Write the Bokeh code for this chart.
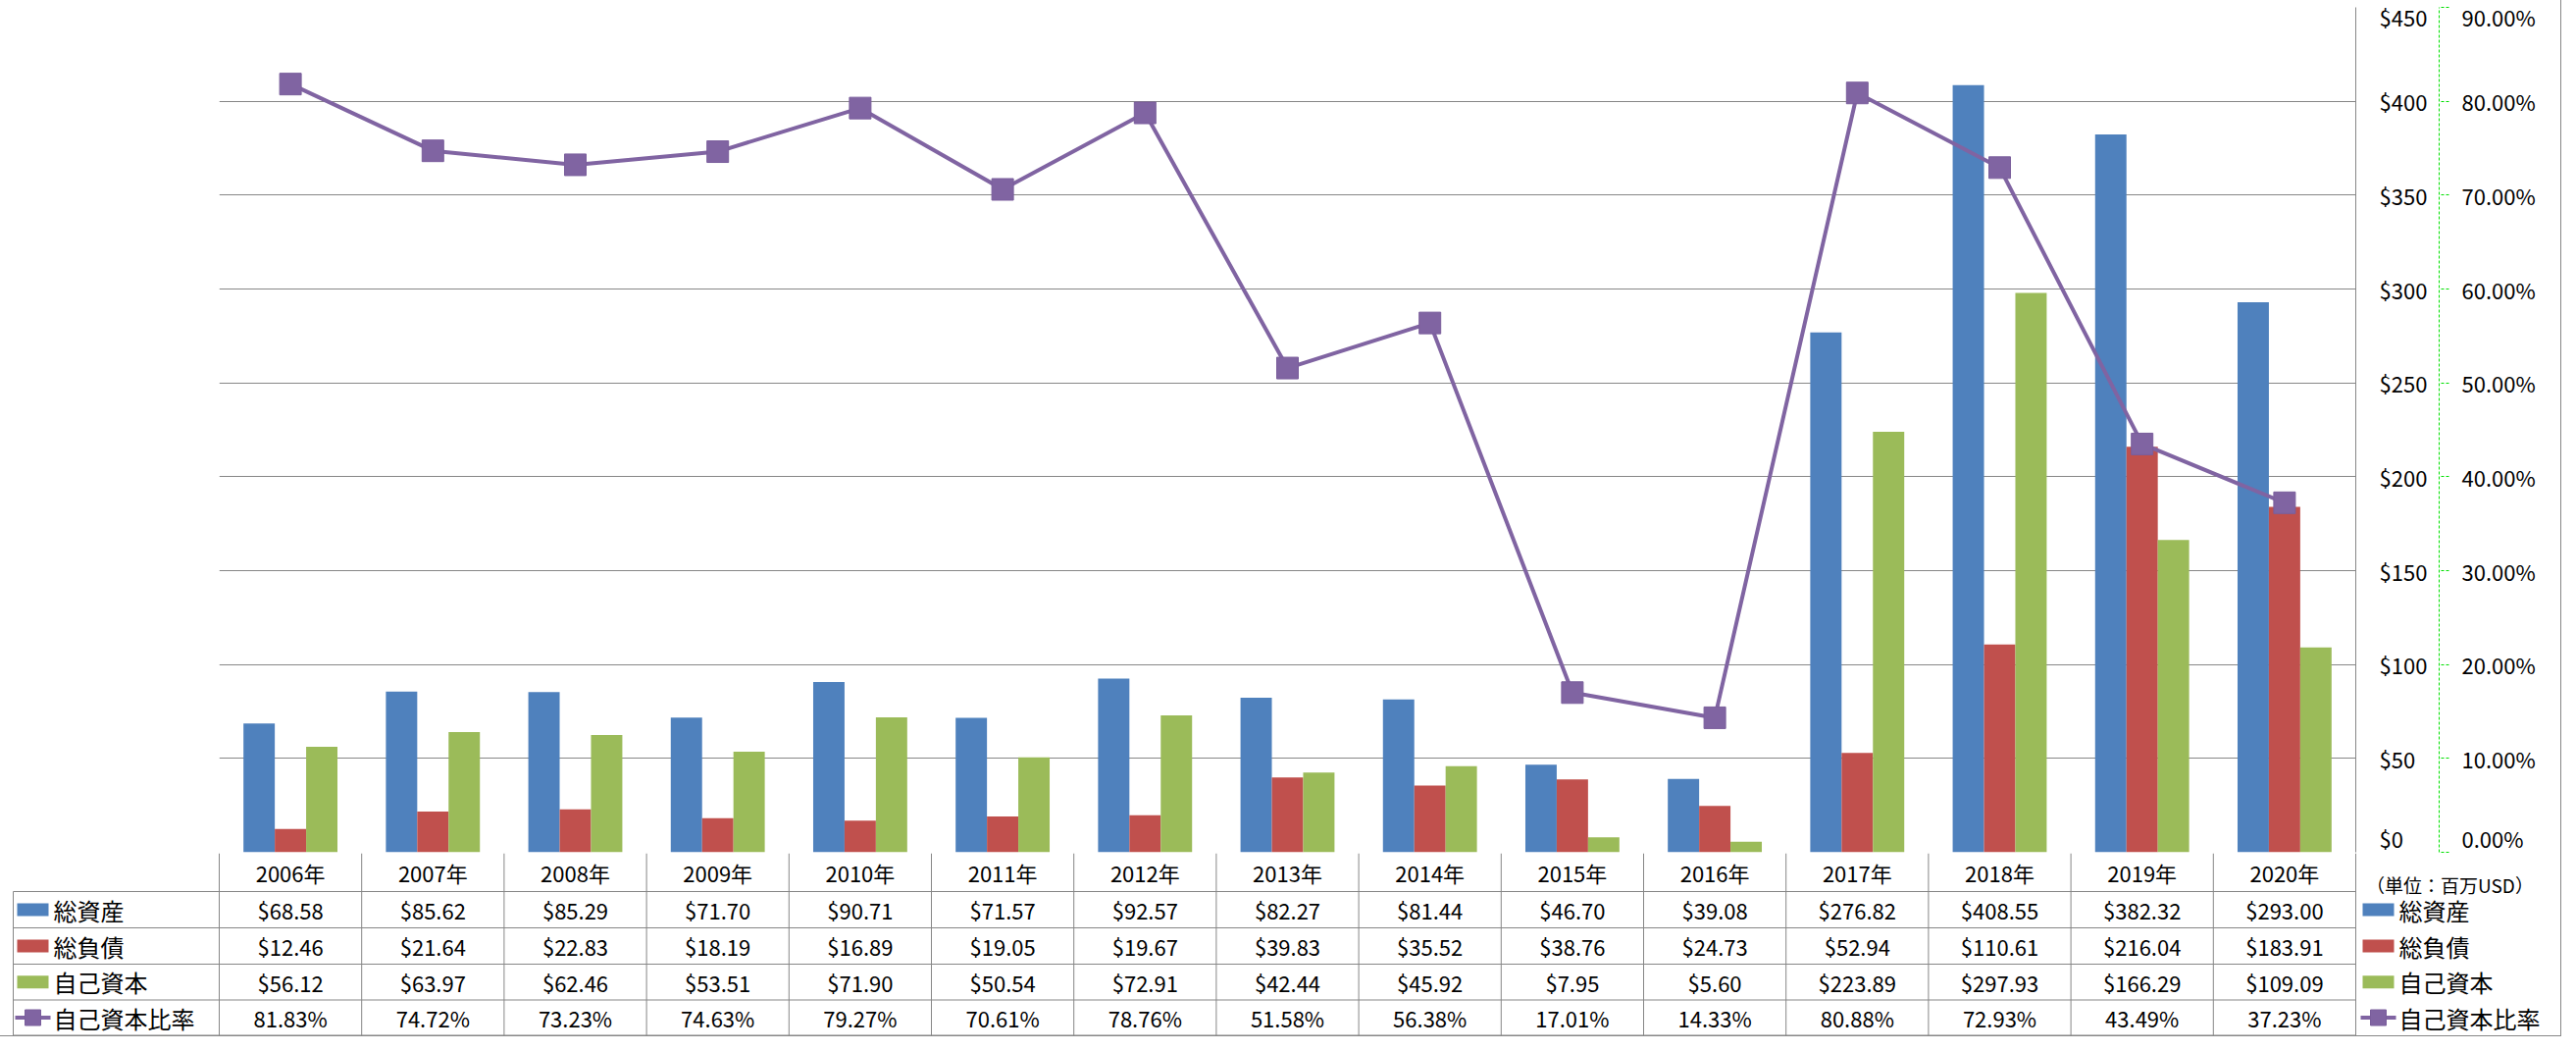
from bokeh.plotting import figure
from bokeh.models import (Range1d, FactorRange, LinearAxis, NumeralTickFormatter,
                          FixedTicker, ColumnDataSource)
from bokeh.transform import dodge
from bokeh.layouts import column
from bokeh.embed import file_html
from bokeh.resources import INLINE
from bokeh.core.properties import value

# ---------------- data ----------------
years = ["2006年", "2007年", "2008年", "2009年", "2010年", "2011年", "2012年", "2013年",
         "2014年", "2015年", "2016年", "2017年", "2018年", "2019年", "2020年"]
total_assets = [68.58, 85.62, 85.29, 71.70, 90.71, 71.57, 92.57, 82.27,
                81.44, 46.70, 39.08, 276.82, 408.55, 382.32, 293.00]
total_liabilities = [12.46, 21.64, 22.83, 18.19, 16.89, 19.05, 19.67, 39.83,
                     35.52, 38.76, 24.73, 52.94, 110.61, 216.04, 183.91]
equity = [56.12, 63.97, 62.46, 53.51, 71.90, 50.54, 72.91, 42.44,
          45.92, 7.95, 5.60, 223.89, 297.93, 166.29, 109.09]
equity_ratio_pct = [81.83, 74.72, 73.23, 74.63, 79.27, 70.61, 78.76, 51.58,
                    56.38, 17.01, 14.33, 80.88, 72.93, 43.49, 37.23]
series_names = ["総資産", "総負債", "自己資本", "自己資本比率"]
series_colors = ["#4F81BD", "#C0504D", "#9BBB59", "#8064A2"]
usd_ticks = [0, 50, 100, 150, 200, 250, 300, 350, 400, 450]
pct_ticks = [0.0, 0.1, 0.2, 0.3, 0.4, 0.5, 0.6, 0.7, 0.8, 0.9]
unit_label = "（単位：百万USD）"

FONT_NAME = "Noto Sans CJK JP"
FONT = value(FONT_NAME)
GRID = "#878787"
W = 2610
FRAME_L = 223
FRAME_R = 2401
N = len(years)
PX = (FRAME_R - FRAME_L) / N

src = ColumnDataSource(dict(
    year=years, assets=total_assets, liab=total_liabilities, eq=equity,
    ratio=[v / 100 for v in equity_ratio_pct]))

# ---------------- chart ----------------
p = figure(width=W, height=869, x_range=FactorRange(*years),
           y_range=Range1d(0, usd_ticks[-1]),
           output_backend="svg", toolbar_location=None,
           x_axis_location=None, y_axis_location="right",
           min_border=0)
p.frame_align = False
p.min_border_left = FRAME_L
p.min_border_right = W - FRAME_R
p.min_border_top = 7
p.min_border_bottom = 1
p.outline_line_color = None
p.background_fill_color = "white"
p.border_fill_color = "white"
p.xgrid.visible = False

ya = p.yaxis[0]
ya.ticker = FixedTicker(ticks=usd_ticks)
ya.formatter = NumeralTickFormatter(format="$0")
ya.axis_line_color = GRID
ya.major_tick_out = 0
ya.major_tick_in = 0
ya.minor_tick_out = 0
ya.minor_tick_in = 0
ya.major_label_standoff = 24
ya.major_label_text_font = FONT_NAME
ya.major_label_text_font_size = "22px"
ya.major_label_text_color = "black"
ya.axis_label = " "
ya.axis_label_standoff = 4
ya.axis_label_text_font_size = "2px"

p.ygrid.ticker = FixedTicker(ticks=usd_ticks)
p.ygrid.grid_line_color = GRID
p.ygrid.grid_line_width = 1

p.extra_y_ranges = {"pct": Range1d(0, pct_ticks[-1])}
pa = LinearAxis(y_range_name="pct", ticker=FixedTicker(ticks=pct_ticks),
                formatter=NumeralTickFormatter(format="0.00%"))
pa.axis_line_color = "#00E000"
pa.axis_line_dash = "3 2"
pa.major_tick_line_color = "#00E000"
pa.major_tick_line_dash = "3 2"
pa.major_tick_out = 10
pa.major_tick_in = 0
pa.minor_tick_out = 0
pa.minor_tick_in = 0
pa.major_label_standoff = 13
pa.major_label_text_font = FONT_NAME
pa.major_label_text_font_size = "22px"
pa.major_label_text_color = "black"
p.add_layout(pa, "right")

bw = 0.22
for off, col, c in [(-bw, "assets", series_colors[0]),
                    (0.0, "liab", series_colors[1]),
                    (bw, "eq", series_colors[2])]:
    p.vbar(x=dodge("year", off, range=p.x_range), top=col, width=bw,
           fill_color=c, line_color=None, source=src)

p.line(x="year", y="ratio", y_range_name="pct", source=src,
       line_color=series_colors[3], line_width=4)
p.scatter(x="year", y="ratio", y_range_name="pct", source=src, marker="square",
          size=22, fill_color=series_colors[3], line_color="#7A5E9C", line_width=1)

# ---------------- data table ----------------
TH = 186
t = figure(width=W, height=TH,
           x_range=Range1d(-FRAME_L / PX, (W - FRAME_L) / PX),
           y_range=Range1d(0, TH),
           output_backend="svg", toolbar_location=None,
           x_axis_location=None, y_axis_location=None, min_border=0)
t.frame_align = False
t.outline_line_color = None
t.grid.visible = False
t.background_fill_color = "white"
t.border_fill_color = "white"


def xd(px):
    return (px - FRAME_L) / PX


edges = [TH, 147, 110, 73, 36.5, 0.5]
centers = [(edges[i] + edges[i + 1]) / 2 for i in range(5)]
left_col = xd(13)

t.segment(x0=[left_col] * 5, x1=[N] * 5, y0=edges[1:], y1=edges[1:],
          line_color=GRID, line_width=1)
t.segment(x0=list(range(N + 1)), x1=list(range(N + 1)),
          y0=[TH] * (N + 1), y1=[edges[-1]] * (N + 1), line_color=GRID, line_width=1)
t.segment(x0=[left_col], x1=[left_col], y0=[edges[1]], y1=[edges[-1]],
          line_color=GRID, line_width=1)

xs = [i + 0.5 for i in range(N)]
t.text(x=xs, y=[centers[0]] * N, text=years, text_align="center",
       text_baseline="middle", text_font=FONT, text_font_size="22px", text_color="black")
rows = [[f"${v:.2f}" for v in total_assets],
        [f"${v:.2f}" for v in total_liabilities],
        [f"${v:.2f}" for v in equity],
        [f"{v:.2f}%" for v in equity_ratio_pct]]
for r, labels in enumerate(rows):
    t.text(x=xs, y=[centers[r + 1]] * N, text=labels, text_align="center",
           text_baseline="middle", text_font=FONT, text_font_size="22px", text_color="black")

for sw_c, lab_x in [(33, 54), (2424, 2445)]:
    for k in range(3):
        t.rect(x=[xd(sw_c)], y=[centers[k + 1]], width=32, height=13,
               width_units="screen", height_units="screen",
               fill_color=series_colors[k], line_color=None)
    t.segment(x0=[xd(sw_c - 18)], x1=[xd(sw_c + 18)], y0=[centers[4]], y1=[centers[4]],
              line_color=series_colors[3], line_width=4)
    t.scatter(x=[xd(sw_c)], y=[centers[4]], marker="square", size=16,
              fill_color=series_colors[3], line_color="#7A5E9C")
    t.text(x=[xd(lab_x)] * 4, y=centers[1:], text=series_names, text_align="left",
           text_baseline="middle", text_font=FONT, text_font_size="24px", text_color="black")

t.text(x=[xd(2497)], y=[TH - 32], text=[unit_label], text_align="center",
       text_baseline="middle", text_font=FONT, text_font_size="19px", text_color="black")

layout = column(p, t, spacing=0, styles={"outline": "1px solid #878787"})
open("out.html", "w").write(file_html(layout, INLINE))
